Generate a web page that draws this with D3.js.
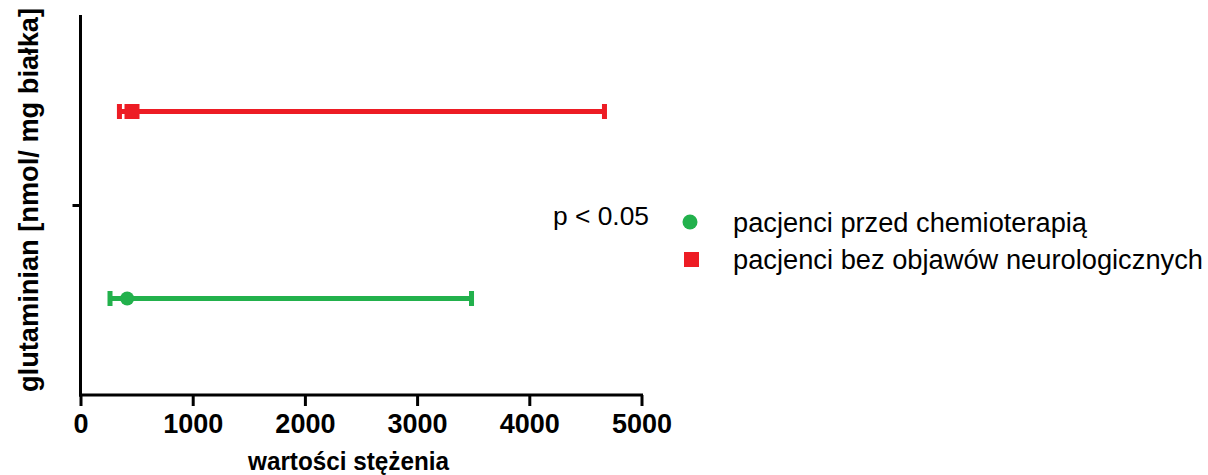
<!DOCTYPE html>
<html>
<head>
<meta charset="utf-8">
<script src="https://cdn.jsdelivr.net/npm/d3@7"></script>
<style>
  html, body { margin: 0; padding: 0; background: #fff; }
  svg { display: block; font-family: "Liberation Sans", Arial, Helvetica, sans-serif; }
</style>
</head>
<body>
<svg id="chart" width="1208" height="475"></svg>
<script>
// Groups (bottom to top) and their summary values
const groups = ["pacjenci przed chemioterapią", "pacjenci bez objawów neurologicznych"];
const centers = [416, 459];      // point estimate
const lows = [263, 347];         // lower whisker
const highs = [3485, 4670];      // upper whisker
const colors = ["#22B14C", "#ED1C24"];
const shapes = ["circle", "square"];

const xTicks = [0, 1000, 2000, 3000, 4000, 5000];
const xTitle = "wartości stężenia";
const yTitle = "glutaminian [nmol/ mg białka]";
const note = "p < 0.05";

const svg = d3.select("#chart");

const x = d3.scaleLinear().domain([0, 5000]).range([80.5, 641.5]);
const yAxisScale = d3.scaleLinear().domain([0, 2]).range([395, 15]);
const y = d3.scalePoint().domain(groups).range([392, 18]).padding(0.5);

// X axis
const xAxis = svg.append("g")
  .attr("transform", "translate(0,395)")
  .call(d3.axisBottom(x).tickValues(xTicks).tickFormat(d3.format("d")).tickSizeOuter(0).tickSize(11).tickPadding(8));
xAxis.select(".domain").attr("stroke", "#000").attr("stroke-width", 3).attr("d", `M${x(0) - 1.5},0H${x(5000) + 1.5}`);
xAxis.selectAll(".tick line").attr("stroke", "#000").attr("stroke-width", 3);
xAxis.selectAll(".tick text")
  .attr("fill", "#000")
  .style("font-size", "27px")
  .style("font-weight", "bold")
  .attr("dy", null)
  .attr("y", 38);

// Y axis: a single separator tick between the two groups
const yAxis = svg.append("g")
  .attr("transform", "translate(80.5,0)")
  .call(d3.axisLeft(yAxisScale).tickValues([1]).tickFormat("").tickSizeOuter(0).tickSize(8));
yAxis.select(".domain").attr("stroke", "#000").attr("stroke-width", 3).attr("d", `M0,15V396.5`);
yAxis.selectAll(".tick line").attr("stroke", "#000").attr("stroke-width", 3);

// Axis titles
svg.append("text")
  .attr("x", 348.5).attr("y", 470)
  .attr("text-anchor", "middle")
  .style("font-size", "26px").style("font-weight", "bold")
  .attr("textLength", 201).attr("lengthAdjust", "spacingAndGlyphs")
  .text(xTitle);

svg.append("text")
  .attr("transform", "translate(38,200) rotate(-90)")
  .attr("text-anchor", "middle")
  .style("font-size", "27px").style("font-weight", "bold")
  .attr("textLength", 384).attr("lengthAdjust", "spacingAndGlyphs")
  .text(yTitle);

// Whiskers, caps and markers
const series = groups.map((g, i) => ({ g, c: centers[i], lo: lows[i], hi: highs[i], color: colors[i], shape: shapes[i] }));
const marks = svg.append("g").selectAll("g").data(series).join("g");

marks.append("line")
  .attr("x1", d => x(d.lo)).attr("x2", d => x(d.hi))
  .attr("y1", d => y(d.g)).attr("y2", d => y(d.g))
  .attr("stroke", d => d.color).attr("stroke-width", 5);

marks.selectAll("rect.cap")
  .data(d => [d.lo, d.hi].map(v => ({ v, d })))
  .join("rect")
  .attr("class", "cap")
  .attr("x", e => x(e.v) - 2.5).attr("width", 5)
  .attr("y", e => y(e.d.g) - 7.5).attr("height", 15)
  .attr("fill", e => e.d.color);

marks.filter(d => d.shape === "circle").append("circle")
  .attr("cx", d => x(d.c)).attr("cy", d => y(d.g)).attr("r", 7)
  .attr("fill", d => d.color);

marks.filter(d => d.shape === "square").append("rect")
  .attr("x", d => x(d.c) - 7.5).attr("y", d => y(d.g) - 7.5)
  .attr("width", 15).attr("height", 15)
  .attr("fill", d => d.color);

// Significance note
svg.append("text")
  .attr("x", 553).attr("y", 225)
  .style("font-size", "26px")
  .attr("textLength", 96).attr("lengthAdjust", "spacingAndGlyphs")
  .text(note);

// Legend
const legendRows = [232, 269];
const legendWidths = [354, 470];
const legend = svg.append("g").selectAll("g").data(series).join("g")
  .attr("transform", (d, i) => `translate(0,${legendRows[i]})`);

legend.filter(d => d.shape === "circle").append("circle")
  .attr("cx", 690).attr("cy", -10).attr("r", 7.5).attr("fill", d => d.color);
legend.filter(d => d.shape === "square").append("rect")
  .attr("x", 684).attr("y", -17).attr("width", 15).attr("height", 15).attr("fill", d => d.color);

legend.append("text")
  .attr("x", 733).attr("y", 0)
  .style("font-size", "27px")
  .attr("textLength", (d, i) => legendWidths[i]).attr("lengthAdjust", "spacingAndGlyphs")
  .text(d => d.g);
</script>
</body>
</html>
